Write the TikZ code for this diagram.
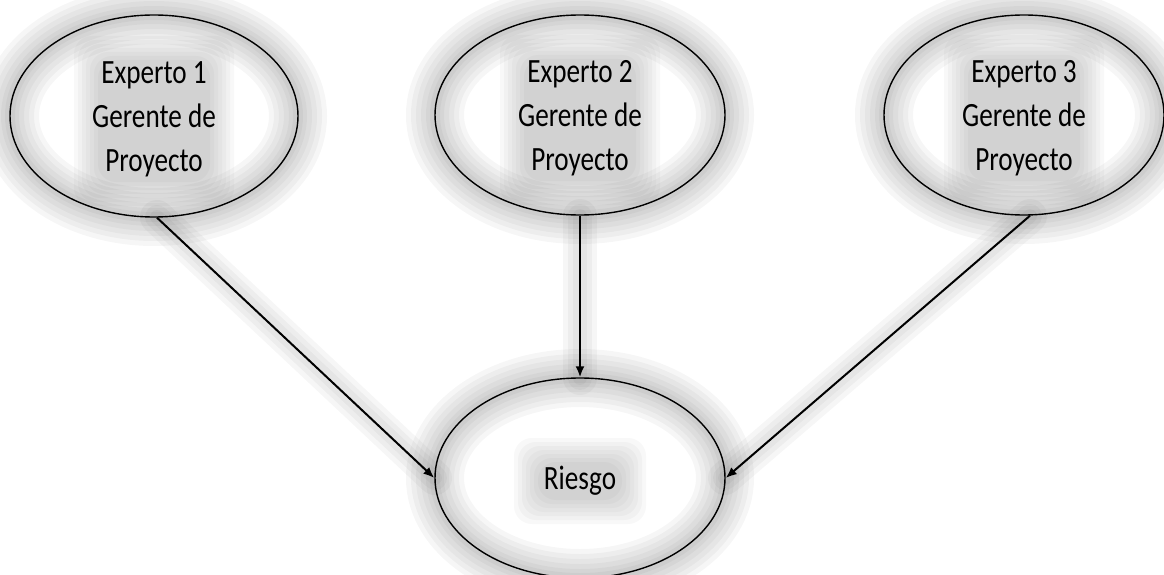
\documentclass[tikz,border=0pt]{standalone}
\usepackage{fontspec}
\setmainfont{Carlito}
\usetikzlibrary{arrows.meta,shapes.geometric,calc}
\begin{document}
\begin{tikzpicture}[x=1pt,y=-1pt,
  bubble/.style={ellipse, draw=black, line width=1.4pt, inner sep=0pt,
    minimum width=288pt, minimum height=202pt, align=center,
    font=\fontsize{34}{44}\selectfont},
  link/.style={draw=black, line width=2pt, -{Latex[length=11pt,width=9pt]}},
  haze/.style={draw=black, opacity=0.035, line cap=round}]
\useasboundingbox (0,0) rectangle (1164,575);

% soft grey halo drawn underneath the shapes
\newcommand{\halo}[3]{%
  \foreach \w in {58,48,38,28,18,10}
    \draw[haze, line width=\w pt] (#1) ellipse [x radius=#2, y radius=#3];}
\newcommand{\textshade}[5]{%
  \foreach \g in {0,4,8,12,16,20,24}
    \fill[black, opacity=0.026, rounded corners=18pt]
      ($(#1)+(-#2-\g,-#4-\g)$) rectangle ($(#1)+(#3+\g,#5+\g)$);}
\newcommand{\cond}[1]{\raisebox{-3pt}[\height][\depth]{\scalebox{0.8}[1]{#1}}}

\coordinate (c1) at (154,116);
\coordinate (c2) at (580,115);
\coordinate (c3) at (1024,115);
\coordinate (c4) at (580,478);

\halo{c1}{144}{101}
\halo{c2}{145}{100}
\halo{c3}{140}{100}
\halo{c4}{145}{100}

\textshade{c1}{56}{56}{56}{66}
\textshade{c2}{56}{56}{56}{66}
\textshade{c3}{56}{56}{56}{66}
\textshade{c4}{42}{42}{16}{22}

\foreach \w in {34,24,14}{
  \draw[haze, line width=\w pt] (157,217) -- (435,478);
  \draw[haze, line width=\w pt] (580,216) -- (580,378);
  \draw[haze, line width=\w pt] (1030,216) -- (725,478);
}

\node[bubble] (e1) at (c1) {\cond{Experto 1}\\\cond{Gerente de}\\\cond{Proyecto}};
\node[bubble, minimum width=290pt, minimum height=200pt] (e2) at (c2) {\cond{Experto 2}\\\cond{Gerente de}\\\cond{Proyecto}};
\node[bubble, minimum width=280pt, minimum height=200pt] (e3) at (c3) {\cond{Experto 3}\\\cond{Gerente de}\\\cond{Proyecto}};
\node[bubble, minimum width=290pt, minimum height=200pt] (r) at (c4) {\cond{Riesgo}};

\draw[link] (e1.south) ++(3,0) coordinate (s1) -- (r.west);
\draw[link] (e2.south) -- (r.north);
\draw[link] (e3.south) ++(6,0) coordinate (s3) -- (r.east);
\end{tikzpicture}
\end{document}
